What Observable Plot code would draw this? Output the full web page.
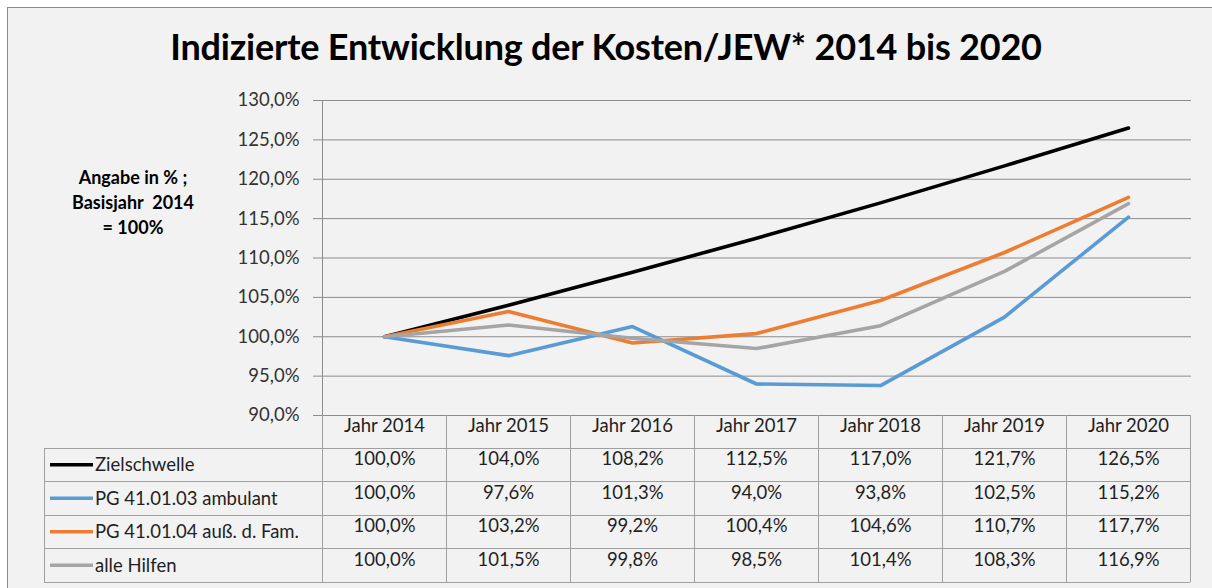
<!DOCTYPE html>
<html>
<head>
<meta charset="utf-8">
<script src="https://cdn.jsdelivr.net/npm/d3@7"></script>
<script src="https://cdn.jsdelivr.net/npm/@observablehq/plot@0.6"></script>
<style>
  html, body { margin: 0; padding: 0; background: #ffffff; overflow: hidden; }
  #wrap { position: relative; width: 1212px; height: 588px; overflow: hidden; }
  #frame { position: absolute; left: 7px; top: 7px; right: 0; bottom: 0;
           background: #f2f2f2; border-left: 1.5px solid #8a8a8a; border-top: 1.5px solid #8a8a8a; }
  #title { position: absolute; left: 0; width: 1212px; top: 24px; text-align: center;
           font-family: Lato, "Open Sans", sans-serif; font-weight: bold; font-size: 36px;
           color: #000; letter-spacing: -0.2px; }
  #ylabel { position: absolute; left: 43px; width: 180px; top: 165px; text-align: center;
            font-family: Lato, sans-serif; font-weight: bold; font-size: 18px; line-height: 25px; color: #000; }
  #chart { position: absolute; left: 0; top: 0; }
</style>
</head>
<body>
<div id="wrap">
  <div id="frame"></div>
  <div id="title">Indizierte Entwicklung der Kosten/JEW* 2014 bis 2020</div>
  <div id="ylabel">Angabe in % ;<br>Basisjahr&nbsp; 2014<br>= 100%</div>
  <div id="chart"></div>
</div>
<script>
// ---- data ----
const years = ["Jahr 2014", "Jahr 2015", "Jahr 2016", "Jahr 2017", "Jahr 2018", "Jahr 2019", "Jahr 2020"];
const zielschwelle = [100.0, 104.0, 108.2, 112.5, 117.0, 121.7, 126.5];
const ambulant     = [100.0, 97.6, 101.3, 94.0, 93.8, 102.5, 115.2];
const ausserFam    = [100.0, 103.2, 99.2, 100.4, 104.6, 110.7, 117.7];
const alleHilfen   = [100.0, 101.5, 99.8, 98.5, 101.4, 108.3, 116.9];
const seriesNames  = ["Zielschwelle", "PG 41.01.03 ambulant", "PG 41.01.04 auß. d. Fam.", "alle Hilfen"];
const seriesValues = [zielschwelle, ambulant, ausserFam, alleHilfen];
const seriesColors = ["#000000", "#5b9bd5", "#ed7d31", "#a5a5a5"];
const yTicks = [90, 95, 100, 105, 110, 115, 120, 125, 130];

// ---- derived table ----
const fmt = d => d.toFixed(1).replace(".", ",") + "%";
const rows = [];
seriesNames.forEach((s, i) => {
  years.forEach((y, j) => rows.push({series: s, row: i, year: y, value: seriesValues[i][j]}));
});

const font = "Lato, 'Open Sans', sans-serif";
const fs = 18.5;
const rowH = 33.5;       // table row height in px
const headerH = 33;
const rowDy = i => headerH + rowH * i + rowH / 2;

const lineMarks = seriesNames.map((s, i) =>
  Plot.line(rows.filter(r => r.row === i), {
    x: "year", y: "value", stroke: seriesColors[i], strokeWidth: 3.6,
    strokeLinecap: "round", strokeLinejoin: "round"
  })
);

const cellMarks = seriesNames.map((s, i) =>
  Plot.text(rows.filter(r => r.row === i), {
    x: "year", frameAnchor: "bottom", dy: rowDy(i), text: d => fmt(d.value),
    fill: "#1f1f1f", fontSize: fs
  })
);

const plot = Plot.plot({
  width: 1212,
  height: 588,
  marginTop: 100,
  marginBottom: 173,
  marginLeft: 320,
  marginRight: 21,
  style: { background: "transparent", fontFamily: font, fontSize: "16px", color: "#404040", overflow: "visible" },
  x: { type: "band", domain: years, padding: 0, axis: null },
  y: { domain: [90, 130], axis: null },
  marks: [
    Plot.gridY(yTicks, { stroke: "#8c8c8c", strokeOpacity: 1, strokeWidth: 1 }),
    Plot.axisY(yTicks, { tickSize: 7, tickPadding: 14, tickFormat: fmt, label: null,
                         stroke: "#8c8c8c", fill: "#333333", fontSize: fs }),
    ...lineMarks,
    Plot.text(years, { x: d => d, frameAnchor: "bottom", dy: headerH / 2, text: d => d,
                       fill: "#1f1f1f", fontSize: fs }),
    ...cellMarks
  ]
});
document.getElementById("chart").appendChild(plot);

// ---- table borders and legend swatches, placed with the plot's scales ----
const xs = plot.scale("x");
const ys = plot.scale("y");
const bw = xs.bandwidth;
const x0 = xs.apply(years[0]);
const xEnd = xs.apply(years[years.length - 1]) + bw;
const yBottom = ys.apply(90);
const yTop = ys.apply(130);
const tableLeft = 44;
const svg = d3.select(plot);
const g = svg.append("g").attr("stroke", "#a0a0a0").attr("stroke-width", 1).attr("shape-rendering", "crispEdges");
svg.append("line").attr("x1", x0).attr("x2", x0).attr("y1", yTop).attr("y2", yBottom)
   .attr("stroke", "#8c8c8c").attr("shape-rendering", "crispEdges");
const tableBottom = yBottom + headerH + rowH * seriesNames.length;
years.forEach(y => {
  const xx = xs.apply(y);
  g.append("line").attr("x1", xx).attr("x2", xx).attr("y1", yBottom).attr("y2", tableBottom);
});
g.append("line").attr("x1", xEnd).attr("x2", xEnd).attr("y1", yBottom).attr("y2", tableBottom);
g.append("line").attr("x1", tableLeft).attr("x2", tableLeft).attr("y1", yBottom + headerH).attr("y2", tableBottom);
for (let i = 0; i <= seriesNames.length; i++) {
  const yy = yBottom + headerH + rowH * i;
  g.append("line").attr("x1", tableLeft).attr("x2", xEnd).attr("y1", yy).attr("y2", yy);
}
// legend keys
seriesNames.forEach((s, i) => {
  const cy = yBottom + rowDy(i);
  svg.append("line").attr("x1", 50).attr("x2", 93).attr("y1", cy).attr("y2", cy)
     .attr("stroke", seriesColors[i]).attr("stroke-width", 3.6);
  svg.append("text").attr("x", 95).attr("y", cy).attr("dy", "0.35em")
     .attr("text-anchor", "start")
     .attr("font-family", font).attr("font-size", fs).attr("fill", "#1f1f1f").text(s);
});
</script>
</body>
</html>
